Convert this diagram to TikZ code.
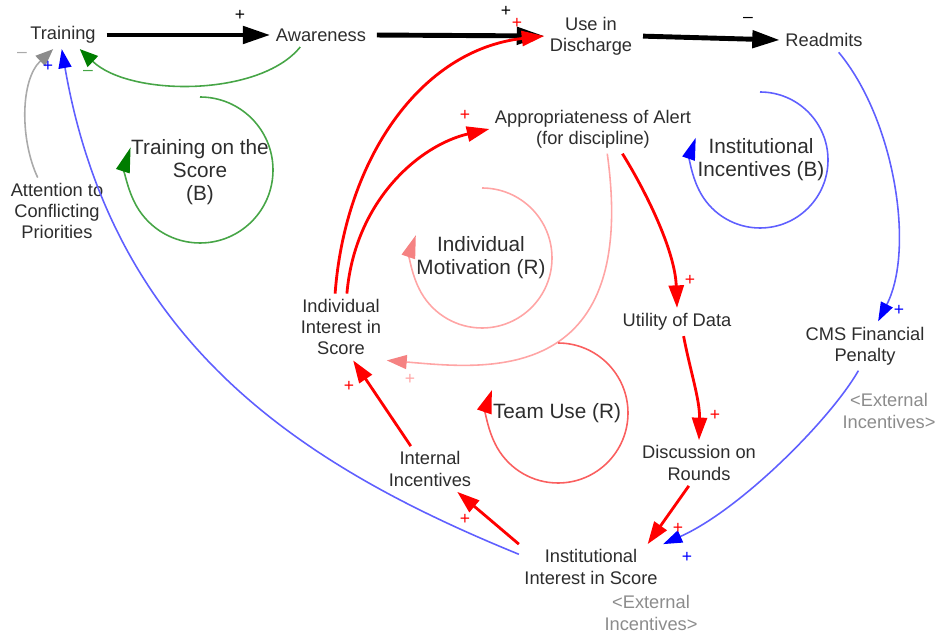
\documentclass[tikz,border=0pt]{standalone}
\usepackage{fontspec}
\setmainfont{Liberation Sans}
\usepackage{tikz}
\usetikzlibrary{arrows.meta}
\definecolor{TextGray}{RGB}{45,45,45}
\definecolor{ShadowGray}{RGB}{140,140,140}
\definecolor{LinkRed}{RGB}{255,0,0}
\definecolor{LoopRed}{RGB}{250,95,95}
\definecolor{LinkPink}{RGB}{255,165,165}
\definecolor{HeadPink}{RGB}{245,130,130}
\definecolor{LinkBlue}{RGB}{95,95,255}
\definecolor{HeadBlue}{RGB}{0,0,255}
\definecolor{LinkGreen}{RGB}{70,165,70}
\definecolor{HeadGreen}{RGB}{0,125,0}
\definecolor{LinkGray}{RGB}{170,170,170}
\definecolor{HeadGray}{RGB}{140,140,140}
\tikzset{
    var/.style={align=center, inner sep=3pt, text=TextGray, font=\fontsize{10.4}{12}\selectfont},
    shadowvar/.style={var, text=ShadowGray},
    loopname/.style={align=center, inner sep=1pt, text=TextGray, font=\fontsize{11.8}{13.2}\selectfont},
    sign/.style={inner sep=0pt, font=\fontsize{10}{10}\selectfont}
}

\begin{document}
\begin{tikzpicture}[
        x=0.02cm, y=-0.02cm,
        % --- LINKS ---
        strong/.style={line width=2.8pt, shorten <=3pt, -{Triangle[length=0.55cm, width=0.34cm]}},
        redlink/.style={draw=LinkRed, line width=1.6pt, -{Triangle[length=0.45cm, width=0.3cm]}},
        pinklink/.style={draw=LinkPink, line width=0.9pt, -{Triangle[length=0.4cm, width=0.28cm, color=HeadPink, fill=HeadPink]}},
        bluelink/.style={draw=LinkBlue, line width=0.9pt, -{Triangle[length=0.38cm, width=0.26cm, color=HeadBlue, fill=HeadBlue]}},
        greenlink/.style={draw=LinkGreen, line width=0.9pt, -{Triangle[length=0.36cm, width=0.3cm, color=HeadGreen, fill=HeadGreen]}},
        graylink/.style={draw=LinkGray, line width=0.9pt, -{Triangle[length=0.35cm, width=0.28cm, color=HeadGray, fill=HeadGray]}},
        % --- LOOPS ---
        loopgreen/.style={draw=LinkGreen, line width=0.9pt, -{Triangle[length=0.5cm, width=0.28cm, color=HeadGreen, fill=HeadGreen]}},
        loopblue/.style={draw=LinkBlue, line width=0.9pt, -{Triangle[length=0.44cm, width=0.26cm, color=HeadBlue, fill=HeadBlue]}},
        looppink/.style={draw=LinkPink, line width=0.9pt, -{Triangle[length=0.46cm, width=0.28cm, color=HeadPink, fill=HeadPink]}},
        loopred/.style={draw=LoopRed, line width=0.9pt, -{Triangle[length=0.46cm, width=0.3cm, color=LinkRed, fill=LinkRed]}}
    ]
    \useasboundingbox (0,0) rectangle (936,634);

    % --- VARIABLES ---
    \node[var] (train) at (63,35) {Training};
    \node[var] (aware) at (321,35) {Awareness};
    \node[var] (use) at (591,36) {Use in\\Discharge};
    \node[var] (readm) at (824,40) {Readmits};
    \node[var] (approp) at (593,129) {Appropriateness of Alert\\(for discipline)};
    \node[var] (attn) at (57,211) {Attention to\\Conflicting\\Priorities};
    \node[var] (indiv) at (341,327) {Individual\\Interest in\\Score};
    \node[var] (util) at (677,322) {Utility of Data};
    \node[var] (cms) at (865,346) {CMS Financial\\Penalty};
    \node[shadowvar] (extR) at (889,411) {<External\\Incentives>};
    \node[var] (intl) at (430,469) {Internal\\Incentives};
    \node[var] (disc) at (699,463) {Discussion on\\Rounds};
    \node[var] (inst) at (591,567) {Institutional\\Interest in Score};
    \node[shadowvar] (extB) at (651,613) {<External\\Incentives>};

    % --- LOOP NAMES ---
    \node[loopname] (loopTS) at (200,172) {Training on the\\Score\\(B)};
    \node[loopname] (loopII) at (761,160) {Institutional\\Incentives (B)};
    \node[loopname] (loopIM) at (481,258) {Individual\\Motivation (R)};
    \node[loopname] (loopTU) at (557,413) {Team Use (R)};

    % --- MAIN CHAIN ---
    \draw[strong] (train.east) -- (aware.west);
    \draw[strong] (aware.east) -- (use.west);
    \draw[strong] (use.east) -- (readm.west);

    % --- OTHER LINKS ---
    \draw[greenlink] (aware.-150) .. controls (260,97) and (130,97) .. (train.-40);
    \draw[graylink] (attn.120) .. controls (20,140) and (20,80) .. (train.-125);
    \draw[bluelink] (inst.170) .. controls (300,465) and (113,343) .. (train.-95);
    \draw[redlink] (indiv.100) .. controls (345,160) and (420,50) .. (use.west);
    \draw[redlink] (indiv.80) .. controls (355,200) and (420,145) .. (approp.west);
    \draw[redlink] (approp.-40) .. controls (645,190) and (675,250) .. (util.north);
    \draw[redlink] (util.-65) .. controls (690,370) and (700,400) .. (disc.north);
    \draw[redlink] (disc.-114) -- (inst.22);
    \draw[redlink] (inst.north west) -- (intl.-40);
    \draw[redlink] (intl.130) -- (indiv.-70);
    \draw[pinklink] (approp.-60) .. controls (640,390) and (480,368) .. (indiv.south east);
    \draw[bluelink] (readm.-40) .. controls (895,120) and (915,250) .. (cms.62);
    \draw[bluelink] (cms.-105) .. controls (830,420) and (740,510) .. (inst.north east);

    % --- LOOP ARCS ---
    \draw[loopgreen] (200,97) arc[start angle=-90, end angle=198, radius=73];
    \draw[loopblue] (760,92) arc[start angle=-90, end angle=199, radius=68];
    \draw[looppink] (482,188) arc[start angle=-90, end angle=199, radius=70];
    \draw[loopred] (558,343) arc[start angle=-90, end angle=199, radius=70];

    % --- POLARITIES ---
    \foreach \px/\py/\col/\sym [count=\i] in {240/15/black/+, 506/11/black/+, 517/23/LinkRed/+,
            748/20/black/\textendash, 22/55/LinkGray/\textendash, 48/66/HeadBlue/+, 88/73/LinkGreen/\textendash,
            465/115/LinkRed/+, 690/280/LinkRed/+, 715/415/LinkRed/+, 678/528/LinkRed/+,
            687/557/HeadBlue/+, 899/310/HeadBlue/+, 465/519/LinkRed/+, 349/386/LinkRed/+, 410/379/LinkPink/+} {
        \node[sign, text=\col] (sgn\i) at (\px,\py) {\sym};
    }

\end{tikzpicture}
\end{document}
